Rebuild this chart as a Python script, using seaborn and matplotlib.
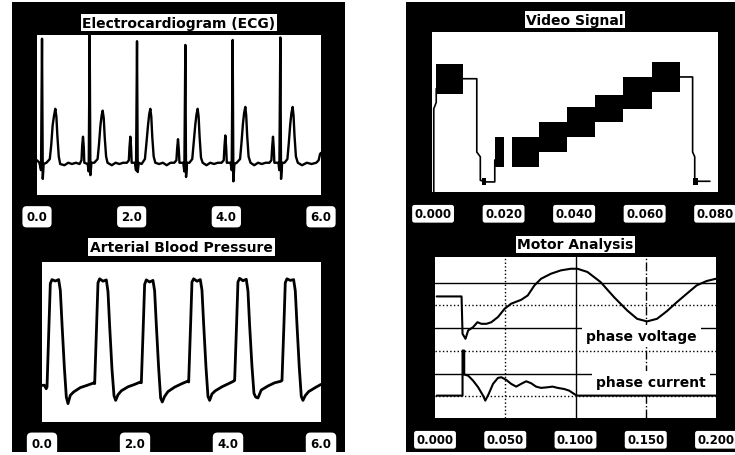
import pandas as pd
import seaborn as sns
import matplotlib.pyplot as plt
from matplotlib.patches import Rectangle

# Electrocardiogram, seconds / mV
ecg_t = [0.00, 0.05, 0.085, 0.106, 0.122, 0.14, 0.20, 0.27, 0.30, 0.33, 0.36, 0.387, 0.41, 0.43, 0.46, 0.49, 0.58, 0.66, 0.74, 0.82, 0.90, 0.94, 0.955, 0.972, 0.988, 1.00,
         1.07, 1.092, 1.113, 1.128, 1.15, 1.21, 1.28, 1.31, 1.34, 1.365, 1.387, 1.41, 1.43, 1.46, 1.49, 1.58, 1.66, 1.74, 1.82, 1.90, 1.94, 1.955, 1.972, 1.988, 2.00,
         2.07, 2.092, 2.113, 2.128, 2.15, 2.21, 2.28, 2.31, 2.345, 2.37, 2.394, 2.415, 2.435, 2.465, 2.50, 2.58, 2.66, 2.74, 2.82, 2.90, 2.945, 2.962, 2.979, 2.995, 3.01,
         3.09, 3.113, 3.134, 3.149, 3.17, 3.22, 3.28, 3.31, 3.345, 3.37, 3.394, 3.415, 3.435, 3.465, 3.50, 3.58, 3.66, 3.74, 3.82, 3.90, 3.945, 3.962, 3.979, 3.995, 4.01,
         4.09, 4.113, 4.134, 4.149, 4.17, 4.22, 4.29, 4.32, 4.35, 4.375, 4.401, 4.42, 4.44, 4.47, 4.51, 4.59, 4.67, 4.75, 4.83, 4.91, 4.952, 4.969, 4.986, 5.002, 5.015,
         5.10, 5.12, 5.141, 5.156, 5.18, 5.23, 5.29, 5.32, 5.35, 5.375, 5.401, 5.42, 5.44, 5.47, 5.51, 5.60, 5.70, 5.80, 5.90, 5.95, 5.98, 6.00]
ecg_mv = [0.02, 0.00, -0.06, 1.00, -0.13, -0.01, 0.00, 0.03, 0.14, 0.30, 0.38, 0.435, 0.37, 0.22, 0.05, -0.01, -0.02, 0.00, -0.01, 0.00, -0.01, 0.02, 0.14, 0.21, 0.13, 0.00,
          -0.01, -0.07, 1.04, -0.10, 0.00, 0.00, 0.03, 0.15, 0.30, 0.38, 0.42, 0.36, 0.21, 0.05, 0.00, -0.02, 0.00, -0.01, 0.00, 0.00, 0.02, 0.13, 0.21, 0.12, 0.00,
          0.00, -0.06, 0.98, -0.075, 0.00, -0.01, 0.03, 0.15, 0.30, 0.39, 0.435, 0.37, 0.21, 0.05, 0.00, -0.01, 0.00, -0.02, 0.00, 0.00, 0.02, 0.12, 0.19, 0.11, 0.00,
          0.00, -0.07, 0.95, -0.115, 0.00, 0.00, 0.03, 0.16, 0.31, 0.39, 0.435, 0.37, 0.21, 0.04, 0.00, -0.02, 0.00, -0.01, 0.00, 0.00, 0.02, 0.14, 0.22, 0.13, 0.00,
          0.00, -0.06, 0.99, -0.15, -0.01, 0.00, 0.03, 0.16, 0.31, 0.40, 0.45, 0.38, 0.22, 0.05, 0.00, -0.02, 0.00, -0.01, 0.00, 0.00, 0.02, 0.13, 0.21, 0.12, 0.00,
          0.00, -0.06, 1.01, -0.13, 0.00, 0.00, 0.03, 0.16, 0.31, 0.40, 0.45, 0.38, 0.22, 0.05, 0.00, -0.02, 0.00, -0.01, 0.00, 0.02, 0.07, 0.08]

# Arterial blood pressure, seconds / mmHg
abp_t = [0.0, 0.05, 0.09,
         0.108, 0.151, 0.179, 0.215, 0.287, 0.358, 0.394, 0.430, 0.480, 0.523, 0.559, 0.609, 0.681, 0.824, 0.968, 1.111,
         1.133, 1.176, 1.204, 1.240, 1.312, 1.383, 1.419, 1.455, 1.505, 1.548, 1.584, 1.634, 1.706, 1.849, 1.993, 2.115,
         2.136, 2.179, 2.207, 2.243, 2.315, 2.386, 2.422, 2.458, 2.508, 2.551, 2.587, 2.637, 2.709, 2.852, 2.996, 3.130,
         3.154, 3.197, 3.225, 3.261, 3.333, 3.404, 3.440, 3.476, 3.526, 3.569, 3.605, 3.655, 3.727, 3.870, 4.014, 4.120,
         4.143, 4.186, 4.214, 4.250, 4.322, 4.393, 4.429, 4.465, 4.515, 4.558, 4.594, 4.644, 4.716, 4.859, 5.003, 5.140,
         5.161, 5.204, 5.232, 5.268, 5.340, 5.411, 5.447, 5.483, 5.533, 5.576, 5.612, 5.662, 5.734, 5.877, 6.0]
abp_mmhg = [62.9, 63.0, 60.8,
            61.9, 101.5, 126.5, 129.0, 128.1, 129.0, 122.3, 101.5, 74.4, 55.6, 51.5, 56.7, 58.8, 61.5, 62.9, 64.4,
            64.0, 102.0, 127.0, 129.5, 128.0, 128.8, 121.5, 100.0, 73.0, 56.5, 53.5, 57.0, 59.5, 62.0, 63.5, 65.0,
            64.5, 101.0, 126.0, 128.8, 127.5, 128.5, 122.0, 101.0, 74.0, 55.0, 52.5, 56.0, 59.0, 61.8, 63.8, 65.5,
            65.0, 102.0, 127.5, 129.5, 128.0, 129.0, 122.5, 101.5, 74.5, 56.0, 53.5, 57.5, 59.5, 62.0, 64.0, 65.5,
            66.0, 102.5, 127.5, 129.8, 128.3, 129.2, 122.0, 100.5, 75.0, 58.0, 55.6, 55.0, 60.0, 62.5, 64.5, 65.5,
            66.0, 102.0, 127.0, 129.5, 128.5, 129.0, 122.0, 101.0, 74.0, 56.0, 53.5, 56.5, 59.0, 61.5, 63.5]

# Video signal: thin line pieces, then the dense burst/staircase blocks
video_t = [0.0002, 0.0002, 0.0009, 0.0009, 0.0085, 0.0124, 0.0124, 0.0134, 0.0134, 0.0151, 0.0175, 0.0175,
           0.0700, 0.0736, 0.0736, 0.0742, 0.0742, 0.0752, 0.0785]
video_v = [-3.0, 52.0, 56.0, 64.6, 70.8, 70.8, 25.0, 22.0, 7.3, 6.3, 6.3, 20.0,
           71.9, 71.9, 25.0, 22.0, 7.3, 6.7, 6.7]
video_piece = [0] * 12 + [1] * 7
block_start = [0.0009, 0.0175, 0.0224, 0.0299, 0.0379, 0.0459, 0.0540, 0.0620]
block_end = [0.0085, 0.0200, 0.0299, 0.0379, 0.0459, 0.0540, 0.0620, 0.0700]
block_low = [61.5, 15.6, 15.6, 25.0, 34.4, 43.8, 52.1, 62.5]
block_high = [80.2, 34.4, 34.4, 43.8, 53.1, 60.4, 71.9, 81.3]
sync_start = [0.0139, 0.0738]
sync_end = [0.0151, 0.0752]
sync_low = [4.2, 4.2]
sync_high = [8.5, 8.5]

# Motor analysis traces (percent of screen height)
volt_t = [0.0012, 0.0189, 0.0196, 0.0217, 0.0236, 0.0271, 0.0302, 0.0330, 0.0366, 0.0401, 0.0448, 0.0495, 0.0542,
          0.0613, 0.0660, 0.0708, 0.0755, 0.0825, 0.0896, 0.0967, 0.1014, 0.1085, 0.1179, 0.1274, 0.1368, 0.1439,
          0.1509, 0.1580, 0.1651, 0.1722, 0.1792, 0.1863, 0.1934, 0.2000]
volt_v = [75.5, 75.5, 52.3, 49.2, 54.4, 56.4, 59.5, 58.5, 58.5, 59.5, 62.7, 67.8, 71.0,
          73.4, 76.1, 82.4, 86.5, 89.6, 91.7, 92.7, 92.7, 90.7, 84.4, 75.1, 66.8, 61.6,
          60.0, 61.6, 66.4, 72.0, 77.2, 82.4, 85.1, 86.5]
curr_t = [0.0012, 0.0196, 0.0196, 0.0208, 0.0208, 0.0236, 0.0271, 0.0307, 0.0342, 0.0358, 0.0382, 0.0413, 0.0448,
          0.0472, 0.0507, 0.0542, 0.0578, 0.0613, 0.0649, 0.0684, 0.0719, 0.0755, 0.0802, 0.0837, 0.0873, 0.0920,
          0.0955, 0.0991, 0.1009, 0.2000]
curr_v = [13.9, 13.9, 41.9, 41.9, 27.0, 26.3, 23.2, 19.1, 13.9, 10.8, 14.9, 21.2, 24.9,
          25.3, 23.7, 21.2, 19.5, 21.2, 22.8, 21.6, 19.5, 18.7, 19.1, 19.5, 18.7, 18.0,
          17.0, 14.9, 13.9, 13.9]
ref_levels = [83.8, 70.3, 55.8, 41.9, 27.4, 13.5]
ref_styles = ["-", ":", "-", ":", "-", ":"]
grid_t = [0.05, 0.10, 0.15]
grid_styles = [":", "-", "-."]
motor_labels = ["phase voltage", "phase current"]
label_t = [0.1467, 0.1538]
label_v = [50.8, 22.2]

ecg_ticks = [0, 2, 4, 6]
ecg_ticklabels = ["0.0", "2.0", "4.0", "6.0"]
video_ticks = [0.0, 0.02, 0.04, 0.06, 0.08]
video_ticklabels = ["0.000", "0.020", "0.040", "0.060", "0.080"]
motor_ticks = [0.0, 0.05, 0.10, 0.15, 0.20]
motor_ticklabels = ["0.000", "0.050", "0.100", "0.150", "0.200"]


def setup(ax, xlim, ylim, ticks, ticklabels, title, title_y, tick_pad=0.3):
    ax.set_facecolor("white")
    ax.set_xlim(*xlim)
    ax.set_ylim(*ylim)
    ax.set_xticks(ticks)
    ax.set_xticklabels(ticklabels, fontsize=8.5, fontweight="bold", color="black",
                       bbox=dict(boxstyle=f"round,pad={tick_pad}", fc="white", ec="none"))
    ax.tick_params(axis="x", length=0, pad=11)
    ax.set_yticks([])
    ax.set_xlabel("")
    ax.set_ylabel("")
    sns.despine(ax=ax, left=True, bottom=True)
    ax.text(0.5, title_y, title, transform=ax.transAxes, ha="center", va="center",
            fontsize=10, fontweight="bold", color="black",
            bbox=dict(boxstyle="square,pad=0.12", fc="white", ec="none"))


def main():
    sns.set_theme(style="white")
    plt.rcParams["font.family"] = ["DejaVu Sans"]
    plt.rcParams["text.color"] = "black"

    fig = plt.figure(figsize=(7.35, 4.56), dpi=100)
    fig.patch.set_facecolor("white")
    # black backing panels behind the two columns
    for x0, w in [(12 / 735, 333 / 735), (406 / 735, 329 / 735)]:
        fig.patches.append(Rectangle((x0, 3 / 456), w, 450 / 456, transform=fig.transFigure,
                                     fc="black", ec="none", zorder=-1))

    ax_ecg = fig.add_axes([37 / 735, 260 / 456, 284 / 735, 160 / 456])
    ax_abp = fig.add_axes([42 / 735, 33 / 456, 279 / 735, 160 / 456])
    ax_vid = fig.add_axes([432 / 735, 263 / 456, 286 / 735, 160 / 456])
    ax_mot = fig.add_axes([435 / 735, 37 / 456, 281 / 735, 161 / 456])

    # ECG
    ecg = pd.DataFrame({"t": ecg_t, "mv": ecg_mv})
    sns.lineplot(data=ecg, x="t", y="mv", ax=ax_ecg, color="black", lw=1.7,
                 estimator=None, sort=False, legend=False)
    setup(ax_ecg, (0, 6), (-0.26, 1.03), ecg_ticks, ecg_ticklabels,
          "Electrocardiogram (ECG)", 1.078, tick_pad=0.35)

    # Arterial blood pressure
    abp = pd.DataFrame({"t": abp_t, "p": abp_mmhg})
    sns.lineplot(data=abp, x="t", y="p", ax=ax_abp, color="black", lw=2.0,
                 estimator=None, sort=False, legend=False)
    setup(ax_abp, (0, 6), (40, 140), ecg_ticks, ecg_ticklabels,
          "Arterial Blood Pressure", 1.094, tick_pad=0.4)

    # Video signal
    vid = pd.DataFrame({"t": video_t, "v": video_v, "piece": video_piece})
    sns.lineplot(data=vid, x="t", y="v", units="piece", ax=ax_vid, color="black", lw=1.2,
                 estimator=None, sort=False, legend=False)
    for s, e, lo, hi in zip(block_start + sync_start, block_end + sync_end,
                            block_low + sync_low, block_high + sync_high):
        ax_vid.fill_between([s, e], [lo, lo], [hi, hi], color="black", lw=0)
    setup(ax_vid, (-0.0003, 0.0808), (0, 100), video_ticks, video_ticklabels,
          "Video Signal", 1.078, tick_pad=0.2)

    # Motor analysis
    for lev, ls in zip(ref_levels, ref_styles):
        ax_mot.axhline(lev, color="black", lw=1.0, ls=ls, zorder=1)
    for gt, ls in zip(grid_t, grid_styles):
        ax_mot.axvline(gt, color="black", lw=1.0, ls=ls, zorder=1)
    volt = pd.DataFrame({"t": volt_t, "v": volt_v})
    curr = pd.DataFrame({"t": curr_t, "v": curr_v})
    sns.lineplot(data=volt, x="t", y="v", ax=ax_mot, color="black", lw=1.5,
                 estimator=None, sort=False, legend=False, zorder=3)
    sns.lineplot(data=curr, x="t", y="v", ax=ax_mot, color="black", lw=1.5,
                 estimator=None, sort=False, legend=False, zorder=3)
    for txt, lt, lv in zip(motor_labels, label_t, label_v):
        ax_mot.text(lt, lv, txt, ha="center", va="center", fontsize=10, fontweight="bold",
                    color="black", zorder=4,
                    bbox=dict(boxstyle="square,pad=0.3", fc="white", ec="none"))
    setup(ax_mot, (0.0008, 0.2), (0, 100), motor_ticks, motor_ticklabels,
          "Motor Analysis", 1.078, tick_pad=0.2)

    fig.savefig("out.png", dpi=100)
    plt.close(fig)


if __name__ == "__main__":
    main()
